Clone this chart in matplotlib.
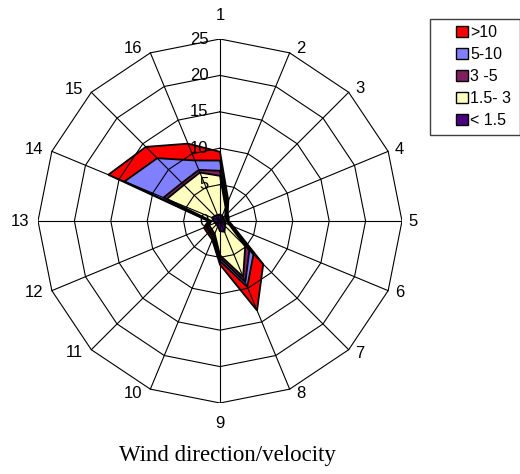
import numpy as np
import matplotlib
matplotlib.use('Agg')
import matplotlib.pyplot as plt
from matplotlib.patches import Patch, Rectangle

# 16 wind directions, clockwise from north
directions = [str(i) for i in range(1, 17)]
radial_ticks = [0, 5, 10, 15, 20, 25]

# cumulative frequency per velocity class (outermost first)
over_10 = [9.5, 3.0, 1.5, 1.3, 1.2, 2.0, 8.4, 13.3, 6.0, 2.8, 2.4, 2.4, 1.6, 16.6, 14.4, 11.5]
v5_10 = [8.3, 2.6, 1.3, 1.2, 1.1, 1.8, 6.5, 9.8, 5.5, 2.5, 2.1, 2.1, 1.5, 14.2, 12.2, 9.0]
v3_5 = [6.9, 2.3, 1.2, 1.1, 1.0, 1.6, 5.7, 9.1, 5.1, 2.2, 1.9, 1.9, 1.4, 8.4, 7.4, 7.6]
v15_3 = [6.2, 2.0, 1.0, 0.9, 0.9, 1.4, 4.9, 8.3, 4.7, 1.9, 1.6, 1.6, 1.2, 7.9, 7.0, 7.2]
under_15 = [0.9, 0.8, 0.7, 0.6, 0.7, 0.8, 1.0, 1.6, 1.4, 0.8, 0.7, 0.7, 0.9, 1.2, 1.0, 0.9]

series_names = ['>10', '5-10', '3 -5', '1.5- 3', '< 1.5']
series_values = [over_10, v5_10, v3_5, v15_3, under_15]
series_colors = ['#FF0000', '#8080FF', '#802060', '#FFFFC0', '#4B0080']

rmax = radial_ticks[-1]
angles = np.arange(len(directions)) * 2 * np.pi / len(directions)


def to_xy(r):
    r = np.asarray(r, dtype=float)
    x = r * np.sin(angles)
    y = r * np.cos(angles)
    return np.append(x, x[0]), np.append(y, y[0])


W, H = 520, 474
fig = plt.figure(figsize=(W / 100, H / 100), dpi=100)
cx, cy, rpx = 220, 221, 182
ax = fig.add_axes([(cx - rpx) / W, (H - cy - rpx) / H, 2 * rpx / W, 2 * rpx / H])
ax.set_xlim(-rmax, rmax)
ax.set_ylim(-rmax, rmax)
ax.axis('off')

# filled areas, largest class at the back
for vals, col in zip(series_values, series_colors):
    x, y = to_xy(vals)
    ax.fill(x, y, facecolor=col, edgecolor='black', lw=1.3, zorder=2)

# polygon grid and spokes
for r in radial_ticks[1:]:
    x, y = to_xy([r] * len(directions))
    ax.plot(x, y, color='black', lw=0.8, zorder=3)
for a in angles:
    ax.plot([0, rmax * np.sin(a)], [0, rmax * np.cos(a)], color='black', lw=0.8, zorder=3)

for r in radial_ticks:
    ax.text(-1.6, r, str(r), ha='right', va='center', fontsize=12,
            family='Liberation Sans', zorder=4)

px = 0.72
for a, lab in zip(angles, directions):
    s, c = np.sin(a), np.cos(a)
    if abs(s) < 1e-6:
        ha = 'center'
        off = (0, 24 * px if c > 0 else -21 * px)
    elif s > 0:
        ha = 'left'
        off = (6.5 * px, 5 * c * px)
    else:
        ha = 'right'
        off = (-8.5 * px, 4.5 * c * px)
    ax.annotate(lab, xy=(rmax * s, rmax * c), xytext=off, textcoords='offset points',
                ha=ha, va='center', fontsize=12, family='Liberation Sans',
                annotation_clip=False)

# legend
fig.patches.append(Rectangle((430 / W, 1 - 135 / H), 89.5 / W, 116 / H,
                             transform=fig.transFigure, facecolor='white',
                             edgecolor='#404040', lw=1.0, zorder=0))
handles = [Patch(facecolor=c, edgecolor='black', lw=1.0) for c in series_colors]
fig.legend(handles, series_names, loc='upper left', bbox_to_anchor=(456 / W, 1 - 25 / H),
           frameon=False, prop={'family': 'Liberation Sans', 'size': 11.5},
           handlelength=0.75, handleheight=0.7, handletextpad=0.15,
           labelspacing=0.44, borderpad=0, borderaxespad=0)

fig.text(227.5 / W, 1 - 455 / H, 'Wind direction/velocity', ha='center', va='center',
         fontsize=16.5, family='Liberation Serif')

fig.savefig('out.png', dpi=100)
